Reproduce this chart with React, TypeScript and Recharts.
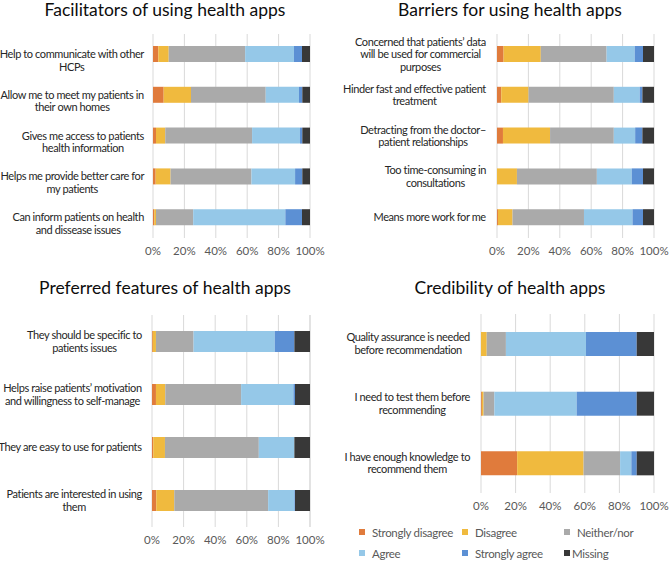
import React from 'react';
import { BarChart, Bar, XAxis, YAxis, CartesianGrid } from 'recharts';

// Likert answer levels, in stacking order
const responseLevels = ['Strongly disagree', 'Disagree', 'Neither/nor', 'Agree', 'Strongly agree', 'Missing'];
const levelColors = ['#E07B3C', '#F0BA3E', '#AAAAAA', '#95C8E8', '#5C90D4', '#383838'];
const percentTicks = [0, 20, 40, 60, 80, 100];

// each row: [strongly disagree, disagree, neither/nor, agree, strongly agree, missing] in %
const facilitatorLabels = [
  'Help to communicate with other\nHCPs',
  'Allow me to meet my patients in\ntheir own homes',
  'Gives me access to patients\nhealth information',
  'Helps me provide better care for\nmy patients',
  'Can inform patients on health\nand dissease issues',
];
const facilitatorValues = [
  [3.4, 6.6, 48.7, 31.1, 5.1, 5.1],
  [6.8, 17.4, 47.6, 21.2, 2.1, 4.9],
  [1.9, 5.9, 55.3, 30.5, 1.5, 4.9],
  [1.7, 9.5, 51.5, 27.8, 4.6, 4.9],
  [0.8, 1.1, 23.7, 58.7, 10.6, 5.1],
];

const barrierLabels = [
  'Concerned that patients\u2019 data\nwill be used for commercial\npurposes',
  'Hinder fast and effective patient\ntreatment',
  'Detracting from the doctor\u2013\npatient relationships',
  'Too time-consuming in\nconsultations',
  'Means more work for me',
];
const barrierValues = [
  [4.2, 23.7, 41.9, 17.9, 5.3, 7.0],
  [2.7, 17.4, 54.3, 16.5, 1.7, 7.4],
  [3.8, 30.0, 40.6, 13.6, 4.6, 7.4],
  [0, 12.7, 50.9, 22.2, 7.2, 7.0],
  [0.6, 9.3, 45.5, 30.9, 6.7, 7.0],
];

const featureLabels = [
  'They should be specific to\npatients issues',
  'Helps raise patients\u2019 motivation\nand willingness to self-manage',
  'They are easy to use for patients',
  'Patients are interested in using\nthem',
];
const featureValues = [
  [0.5, 2.0, 23.8, 51.4, 12.4, 9.9],
  [2.5, 5.9, 48.0, 33.1, 1.0, 9.5],
  [0.8, 7.4, 59.4, 22.5, 0, 9.9],
  [2.7, 11.4, 59.4, 16.6, 0.4, 9.5],
];

const credibilityLabels = [
  'Quality assurance is needed\nbefore recommendation',
  'I need to test them before\nrecommending',
  'I have enough knowledge to\nrecommend them',
];
const credibilityValues = [
  [0, 3.3, 11.1, 46.3, 29.3, 10],
  [0.5, 1.0, 6.2, 47.6, 34.7, 10],
  [20.9, 38.4, 21.1, 6.5, 3.1, 10],
];

const FONT = 'Lato, "Open Sans", sans-serif';
const LABEL_SIZE = 11;
const LABEL_SPACING = -0.4;
const LINE_GAP = 12.6;

let measureCtx: CanvasRenderingContext2D | null = null;
function textWidth(s: string) {
  if (!measureCtx) measureCtx = document.createElement('canvas').getContext('2d');
  if (!measureCtx) return s.length * 5;
  measureCtx.font = `${LABEL_SIZE}px ${FONT}`;
  return measureCtx.measureText(s).width + LABEL_SPACING * s.length;
}

type PanelProps = {
  title: string;
  labels: string[];
  values: number[][];
  left: number;
  top: number;
  width: number;
  height: number;
  axisWidth: number;
  rightPad: number;
  topPad: number;
  barSize: number;
  labelGap: number;
  labelNudge?: number;
  titleX: number;
  titleY: number;
};

const X_AXIS_H = 24;

function Panel(p: PanelProps) {
  const rows = p.labels.map((label, i) => {
    const row: Record<string, string | number> = { label };
    p.values[i].forEach((v, j) => {
      row[`s${j}`] = v;
    });
    return row;
  });
  const plotBottom = p.height - X_AXIS_H;
  const labelRight = p.axisWidth - p.labelGap;

  const renderCategory = (props: any) => {
    const lines = String(props.payload.value).split('\n');
    const blockW = Math.max(...lines.map(textWidth));
    const cx = labelRight - blockW / 2;
    const y0 = props.y - ((lines.length - 1) * LINE_GAP) / 2 + (p.labelNudge || 0);
    return (
      <text
        textAnchor="middle"
        fontSize={LABEL_SIZE}
        fontFamily={FONT}
        letterSpacing={LABEL_SPACING}
        fill="#262626"
      >
        {lines.map((ln, k) => (
          <tspan key={k} x={cx} y={y0 + k * LINE_GAP} dy="0.35em">
            {ln}
          </tspan>
        ))}
      </text>
    );
  };

  const renderPercent = (props: any) => (
    <text
      x={props.x}
      y={plotBottom + 13}
      dy="0.35em"
      textAnchor="middle"
      fontSize={11.5}
      fontFamily={FONT}
      fill="#595959"
    >
      {`${props.payload.value}%`}
    </text>
  );

  return (
    <>
      <div style={{ position: 'absolute', left: p.left, top: p.top }}>
        <BarChart
          width={p.width}
          height={p.height}
          data={rows}
          layout="vertical"
          margin={{ top: p.topPad, right: p.rightPad, bottom: 0, left: 0 }}
          barCategoryGap={0}
        >
          <CartesianGrid horizontal={false} stroke="#D9D9D9" />
          <XAxis
            type="number"
            domain={[0, 100]}
            ticks={percentTicks}
            axisLine={false}
            tickLine={false}
            height={X_AXIS_H}
            tick={renderPercent}
            interval={0}
          />
          <YAxis
            type="category"
            dataKey="label"
            width={p.axisWidth}
            axisLine={false}
            tickLine={false}
            tick={renderCategory}
            interval={0}
          />
          {responseLevels.map((lvl, j) => (
            <Bar
              key={lvl}
              name={lvl}
              dataKey={`s${j}`}
              stackId="a"
              fill={levelColors[j]}
              barSize={p.barSize}
              isAnimationActive={false}
            />
          ))}
        </BarChart>
      </div>
      <div
        style={{
          position: 'absolute',
          left: p.titleX - 160,
          top: p.titleY,
          width: 320,
          textAlign: 'center',
          fontFamily: FONT,
          fontSize: 17.5,
          lineHeight: '20px',
          color: '#0d0d0d',
        }}
      >
        {p.title}
      </div>
    </>
  );
}

// legend grid: three columns, two rows
const legendCols = [359, 462, 564];
const legendRows = [532, 553];

export default function App() {
  return (
    <div
      style={{
        position: 'absolute',
        left: 0,
        top: 0,
        width: 669,
        height: 561,
        background: '#fff',
        overflow: 'hidden',
      }}
    >
      <Panel
        title="Facilitators of using health apps"
        labels={facilitatorLabels}
        values={facilitatorValues}
        left={0}
        top={0}
        width={330}
        height={262}
        axisWidth={153}
        rightPad={20}
        topPad={34}
        barSize={16}
        labelGap={9}
        labelNudge={6}
        titleX={165}
        titleY={0}
      />
      <Panel
        title="Barriers for using health apps"
        labels={barrierLabels}
        values={barrierValues}
        left={335}
        top={0}
        width={334}
        height={262}
        axisWidth={162}
        rightPad={15}
        topPad={34}
        barSize={16}
        labelGap={11}
        titleX={510}
        titleY={0}
      />
      <Panel
        title="Preferred features of health apps"
        labels={featureLabels}
        values={featureValues}
        left={0}
        top={270}
        width={330}
        height={281}
        axisWidth={152}
        rightPad={20}
        topPad={45}
        barSize={21}
        labelGap={10}
        titleX={165}
        titleY={278}
      />
      <Panel
        title="Credibility of health apps"
        labels={credibilityLabels}
        values={credibilityValues}
        left={335}
        top={270}
        width={334}
        height={247}
        axisWidth={146}
        rightPad={15}
        topPad={44}
        barSize={24}
        labelGap={11}
        titleX={510}
        titleY={278}
      />
      {responseLevels.map((lvl, j) => {
        const col = j % 3;
        const row = Math.floor(j / 3);
        const textGap = lvl === 'Missing' ? 2 : 7;
        return (
          <div
            key={lvl}
            style={{
              position: 'absolute',
              left: legendCols[col],
              top: legendRows[row] - 8,
              height: 16,
              display: 'flex',
              alignItems: 'center',
              fontFamily: FONT,
              fontSize: 11.5,
              letterSpacing: -0.3,
              color: '#595959',
              whiteSpace: 'nowrap',
            }}
          >
            <span
              style={{
                width: 6,
                height: 6,
                background: levelColors[j],
                display: 'inline-block',
                marginRight: textGap,
              }}
            />
            {lvl}
          </div>
        );
      })}
    </div>
  );
}
